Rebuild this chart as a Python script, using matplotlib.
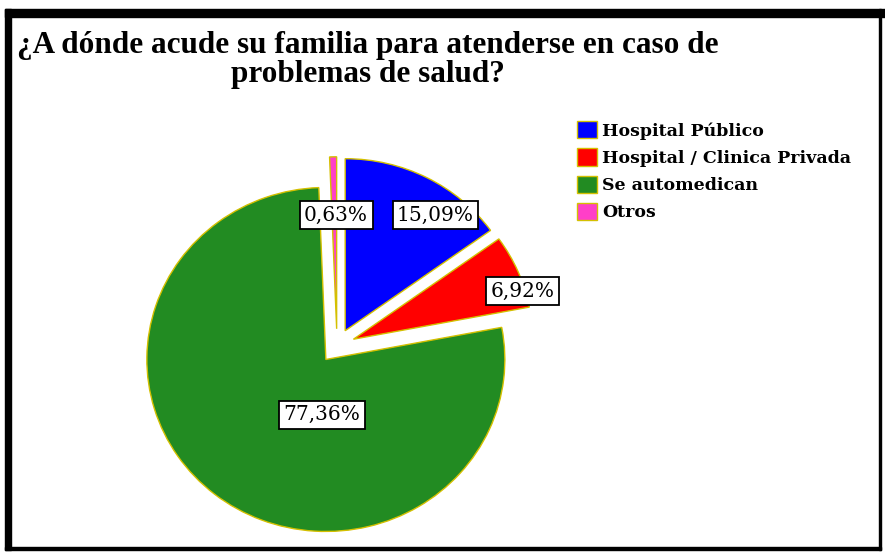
import numpy as np
import matplotlib
matplotlib.use("Agg")
import matplotlib.pyplot as plt
import matplotlib.patches as mpatches

# datos
categorias = ["Hospital Público", "Hospital / Clinica Privada", "Se automedican", "Otros"]
porcentajes = [15.09, 6.92, 77.36, 0.63]
colores = ["#0000FF", "#FF0000", "#228B22", "#FF3FC8"]
titulo = "¿A dónde acude su familia para atenderse en caso de\nproblemas de salud?"

# posiciones de las etiquetas (coordenadas de datos del pastel)
pos_etiquetas = [(0.55, 0.76), (1.035, 0.32), (-0.085, -0.40), (-0.005, 0.76)]

W, H = 885, 552
fig = plt.figure(figsize=(W / 100, H / 100), dpi=100)
fig.patch.set_facecolor("white")

# marco negro
def barra(x0, y0, x1, y1):
    fig.patches.append(mpatches.Rectangle((x0 / W, 1 - y1 / H), (x1 - x0) / W, (y1 - y0) / H,
                                          transform=fig.transFigure, color="black", zorder=5))

barra(5, 9, 885, 17)
barra(5, 9, 11, 550)
barra(5, 547, 881, 550)
barra(879, 9, 881, 550)

# pastel (ligeramente estirado en horizontal, como el original)
RX, RY = 179, 172
cx, cy = 337, 346
ax = fig.add_axes([(cx - 1.2 * RX) / W, (H - cy - 1.2 * RY) / H, 2.4 * RX / W, 2.4 * RY / H])
wedges, _ = ax.pie(porcentajes, colors=colores, startangle=90, counterclock=False,
                   explode=[0.1] * 4,
                   wedgeprops=dict(edgecolor="#D4C000", linewidth=1.0))
ax.set_xlim(-1.2, 1.2)
ax.set_ylim(-1.2, 1.2)
ax.set_aspect("auto")
ax.axis("off")

for v, (x, y) in zip(porcentajes, pos_etiquetas):
    ax.text(x, y, f"{v:.2f}%".replace(".", ","), ha="center", va="center",
            fontsize=14.5, family="DejaVu Serif",
            bbox=dict(boxstyle="square,pad=0.22", fc="white", ec="black", lw=1.3))

# titulo
fig.text(368 / W, 1 - 31 / H, titulo, ha="center", va="top", multialignment="center",
         fontsize=22.5, fontweight="bold", family="Liberation Serif", linespacing=1.0)

# leyenda
handles = [mpatches.Patch(facecolor=c, edgecolor="#D4C000", label=l)
           for c, l in zip(colores, categorias)]
fig.legend(handles=handles, loc="upper left", bbox_to_anchor=(565 / W, 1 - 109 / H),
           frameon=False, prop=dict(family="DejaVu Serif", weight="bold", size=12.5),
           handlelength=1.15, handleheight=1.15, handletextpad=0.3, labelspacing=0.5,
           borderpad=0.2)

fig.savefig("out.png", dpi=100)
